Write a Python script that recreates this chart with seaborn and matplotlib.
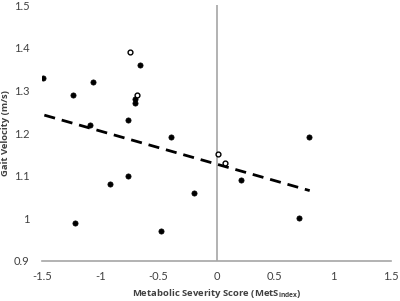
import seaborn as sns
import matplotlib.pyplot as plt
import pandas as pd

# filled points (MetS index, gait velocity)
mets_filled = [-1.49, -1.23, -1.06, -1.09, -0.66, -0.70, -0.70, -0.76, -0.39, 0.79,
               -1.22, -0.92, -0.76, -0.48, -0.19, 0.21, 0.71]
gait_filled = [1.33, 1.29, 1.32, 1.22, 1.36, 1.28, 1.27, 1.23, 1.19, 1.19,
               0.99, 1.08, 1.10, 0.97, 1.06, 1.09, 1.00]

# open points
mets_open = [-0.74, -0.68, 0.01, 0.07]
gait_open = [1.39, 1.29, 1.15, 1.13]

# trend line
trend_x = [-1.48, 0.80]
trend_y = [1.242, 1.065]

x_ticks = [-1.5, -1, -0.5, 0, 0.5, 1, 1.5]
x_tick_labels = ["-1.5", "-1", "-0.5", "0", "0.5", "1", "1.5"]
y_ticks = [0.9, 1.0, 1.1, 1.2, 1.3, 1.4, 1.5]
y_tick_labels = ["0.9", "1", "1.1", "1.2", "1.3", "1.4", "1.5"]

df_filled = pd.DataFrame({"mets": mets_filled, "gait": gait_filled})
df_open = pd.DataFrame({"mets": mets_open, "gait": gait_open})
df_trend = pd.DataFrame({"mets": trend_x, "gait": trend_y})

sns.set_style("white")
plt.rcParams["font.family"] = ["Lato", "DejaVu Sans"]
plt.rcParams["mathtext.fontset"] = "custom"
plt.rcParams["mathtext.bf"] = "Open Sans:bold"
plt.rcParams["mathtext.rm"] = "Open Sans"

fig = plt.figure(figsize=(4.0, 3.01), dpi=100)
ax = fig.add_axes([0.105, 0.133, 0.873, 0.85])

axis_grey = "#a6a6a6"
text_grey = "#404040"
ax.axvline(0, color=axis_grey, lw=1.2, zorder=1)

sns.lineplot(data=df_trend, x="mets", y="gait", ax=ax, color="black",
             lw=2.0, linestyle=(0, (4, 2.5)), zorder=2)
sns.scatterplot(data=df_filled, x="mets", y="gait", ax=ax, color="black",
                s=14, edgecolor="black", linewidth=0.5, zorder=3)
sns.scatterplot(data=df_open, x="mets", y="gait", ax=ax, facecolor="white",
                s=12, edgecolor="black", linewidth=1.0, zorder=3)

ax.set_xlim(-1.5, 1.5)
ax.set_ylim(0.9, 1.5)
ax.set_xticks(x_ticks)
ax.set_xticklabels(x_tick_labels)
ax.set_yticks(y_ticks)
ax.set_yticklabels(y_tick_labels)
ax.tick_params(axis="both", length=0, labelsize=8, colors=text_grey)
ax.tick_params(axis="x", pad=7)
ax.tick_params(axis="y", pad=9)

for side in ["top", "right", "left"]:
    ax.spines[side].set_visible(False)
ax.spines["bottom"].set_color(axis_grey)
ax.spines["bottom"].set_linewidth(1.2)

ax.set_xlabel(r"Metabolic Severity Score (MetS$_{\mathbf{index}}$)",
              family="Open Sans", fontsize=6.8, fontweight="bold",
              color=text_grey, labelpad=4)
ax.set_ylabel("Gait Velocity (m/s)", family="Open Sans", fontsize=6.8,
              fontweight="bold", color=text_grey, labelpad=3)

fig.savefig("out.png", dpi=100)
